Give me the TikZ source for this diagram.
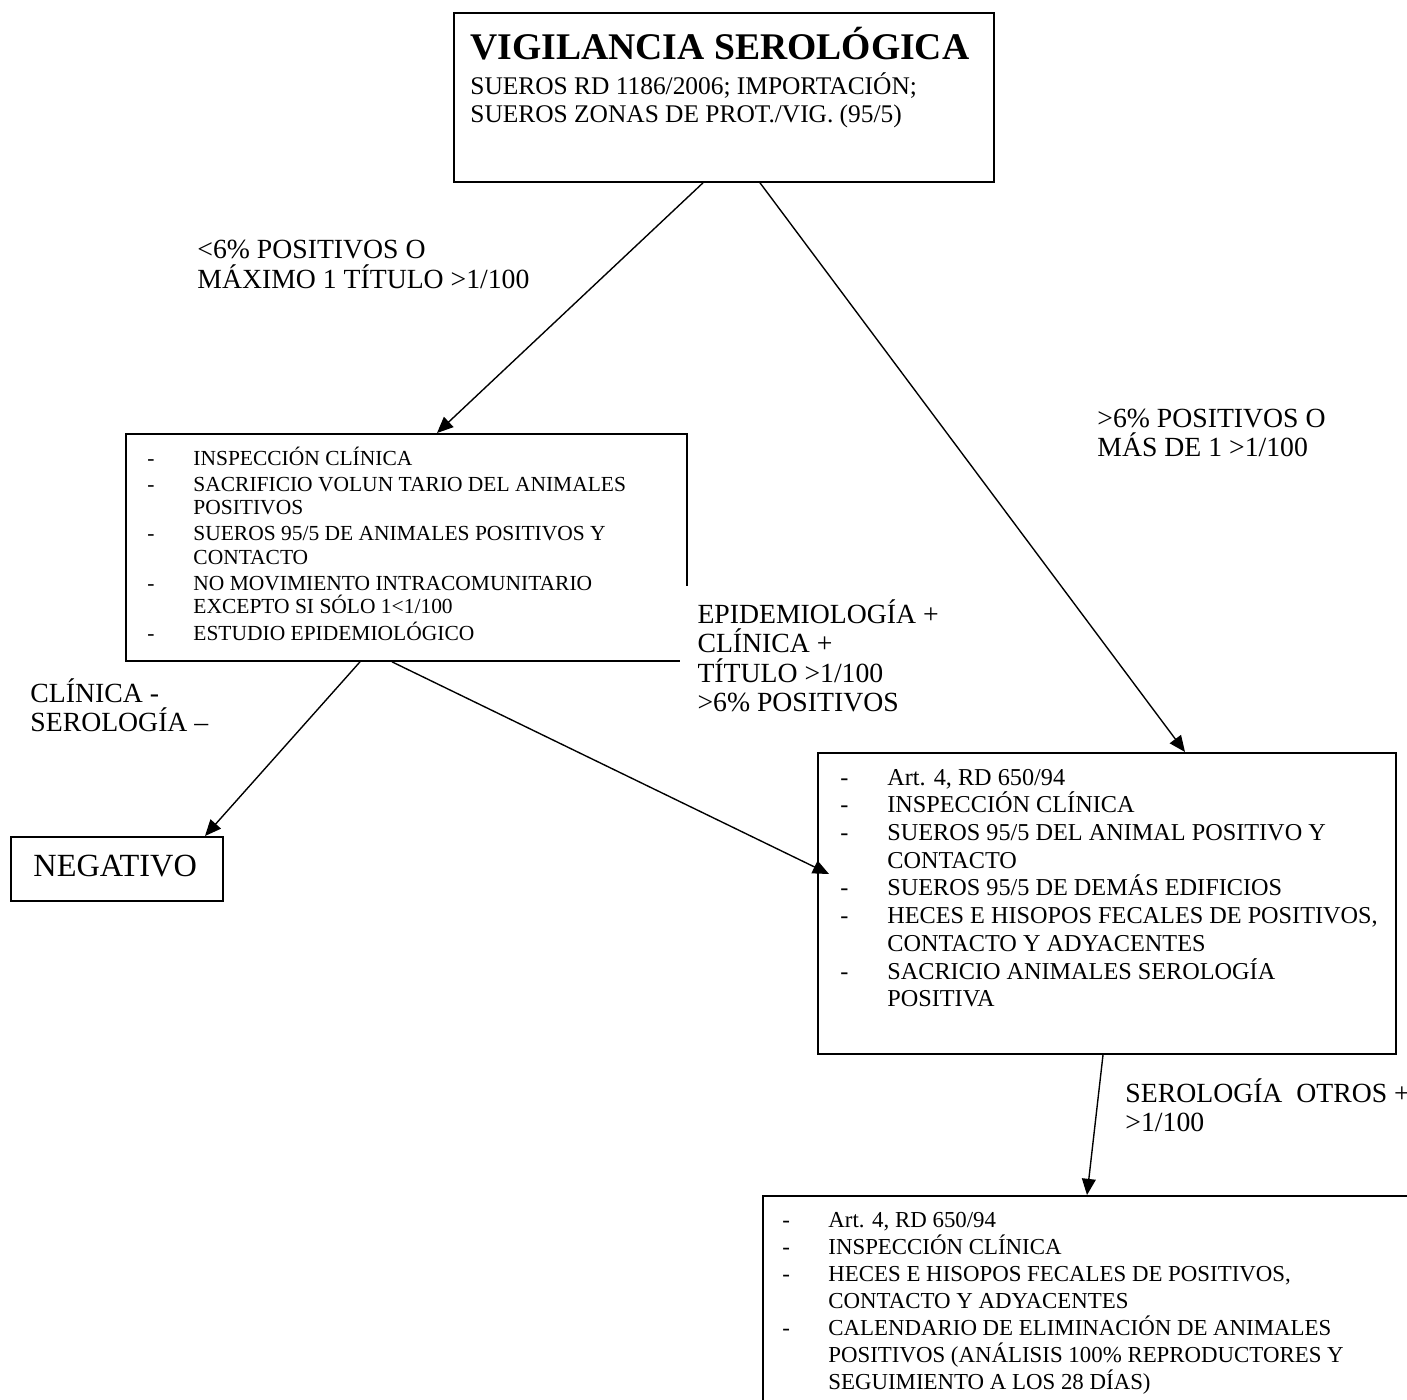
\documentclass[tikz,border=0pt]{standalone}
\usepackage{fontspec}
\setmainfont{Liberation Serif}
\usetikzlibrary{arrows.meta,calc}

\newcommand\textrows[1]{\vtop{\halign{##\hfil\cr#1\crcr}}}
\newcommand\dashrows[2]{\vtop{\halign{\hbox to #1{##\hfil}&##\hfil\cr#2\crcr}}}
\newcommand\gap{\noalign{\vskip1.1pt}}

\tikzset{
  box/.style={draw, line width=0.8pt, inner sep=0pt, anchor=north west},
  boxsize/.style 2 args={minimum width=#1*0.433pt, minimum height=#2*0.433pt},
  txt/.style={inner sep=0pt, anchor=base west},
  lab/.style={txt, font=\fontsize{12}{12.8}\selectfont},
  arr/.style={line width=0.6pt, -{Triangle[length=7pt,width=6pt]}},
}

\begin{document}
\begin{tikzpicture}[x=0.433pt, y=-0.433pt]
\useasboundingbox (0,0) rectangle (1407,1400);
\clip (0,0) rectangle (1407,1400);

% boxes
\node[box, boxsize={540}{169}] (vig) at (453,12) {};
\node[box, boxsize={561}{227}] (ins) at (125,433) {};
\node[box, boxsize={212}{64}] (neg) at (10,836) {};
\node[box, boxsize={578}{301}] (res) at (817,752) {};
\node[box, boxsize={700}{300}] (fin) at (762,1195) {};

% box texts
\node[txt, font=\fontsize{16.3}{18}\selectfont\bfseries] (vigtitle) at (470,60) {VIGILANCIA SEROLÓGICA};
\node[txt, font=\fontsize{11}{12}\selectfont] (vigtext) at (470,95)
  {\textrows{SUEROS RD 1186/2006; IMPORTACIÓN;\cr SUEROS ZONAS DE PROT./VIG. (95/5)}};
\node[txt, font=\fontsize{9.3}{10.2}\selectfont] (instext) at (147,465)
  {\dashrows{19.9pt}{-&INSPECCIÓN CLÍNICA\cr\gap
   -&SACRIFICIO VOLUN TARIO DEL ANIMALES\cr &POSITIVOS\cr\gap
   -&SUEROS 95/5 DE ANIMALES POSITIVOS Y\cr &CONTACTO\cr\gap
   -&NO MOVIMIENTO INTRACOMUNITARIO\cr &EXCEPTO SI SÓLO 1<1/100\cr\gap
   -&ESTUDIO EPIDEMIOLÓGICO}};
\node[txt, font=\fontsize{14}{16}\selectfont] (negtext) at (33,876) {NEGATIVO};
\node[txt, font=\fontsize{10.5}{12}\selectfont] (restext) at (840,785)
  {\dashrows{20.3pt}{-&Art. 4, RD 650/94\cr
   -&INSPECCIÓN CLÍNICA\cr
   -&SUEROS 95/5 DEL ANIMAL POSITIVO Y\cr &CONTACTO\cr
   -&SUEROS 95/5 DE DEMÁS EDIFICIOS\cr
   -&HECES E HISOPOS FECALES DE POSITIVOS,\cr &CONTACTO Y ADYACENTES\cr
   -&SACRICIO ANIMALES SEROLOGÍA\cr &POSITIVA}};
\node[txt, font=\fontsize{9.9}{11.7}\selectfont] (fintext) at (782,1227)
  {\dashrows{19.9pt}{-&Art. 4, RD 650/94\cr
   -&INSPECCIÓN CLÍNICA\cr
   -&HECES E HISOPOS FECALES DE POSITIVOS,\cr &CONTACTO Y ADYACENTES\cr
   -&CALENDARIO DE ELIMINACIÓN DE ANIMALES\cr &POSITIVOS (ANÁLISIS 100\% REPRODUCTORES Y\cr &SEGUIMIENTO A LOS 28 DÍAS)}};

% edge labels
\node[lab] (lowlab) at (197,259) {\textrows{<6\% POSITIVOS O\cr MÁXIMO 1 TÍTULO >1/100}};
\node[lab] (highlab) at (1097,427) {\textrows{>6\% POSITIVOS O\cr MÁS DE 1 >1/100}};
\node[lab, fill=white, inner xsep=7.4pt, inner ysep=5.6pt] (epilab) at (680,623)
  {\textrows{EPIDEMIOLOGÍA +\cr CLÍNICA +\cr TÍTULO >1/100\cr >6\% POSITIVOS}};
\node[lab] (neglab) at (30,702) {\textrows{CLÍNICA -\cr SEROLOGÍA –}};
\node[lab] (otherlab) at (1125,1102) {\textrows{SEROLOGÍA \ OTROS +\cr >1/100}};

% arrows
\draw[arr] ($(vig.south west)+(250,0)$) -- ($(ins.north west)+(312,0)$);
\draw[arr] ($(vig.south west)+(307,0)$) -- ($(res.north west)+(368,0)$);
\draw[arr] ($(ins.south west)+(235,0)$) -- ($(neg.north west)+(195,0)$);
\draw[arr] ($(ins.south west)+(267,0)$) -- ($(res.north west)+(12,122)$);
\draw[arr] ($(res.south west)+(286,0)$) -- ($(fin.north west)+(325,0)$);
\end{tikzpicture}
\end{document}
